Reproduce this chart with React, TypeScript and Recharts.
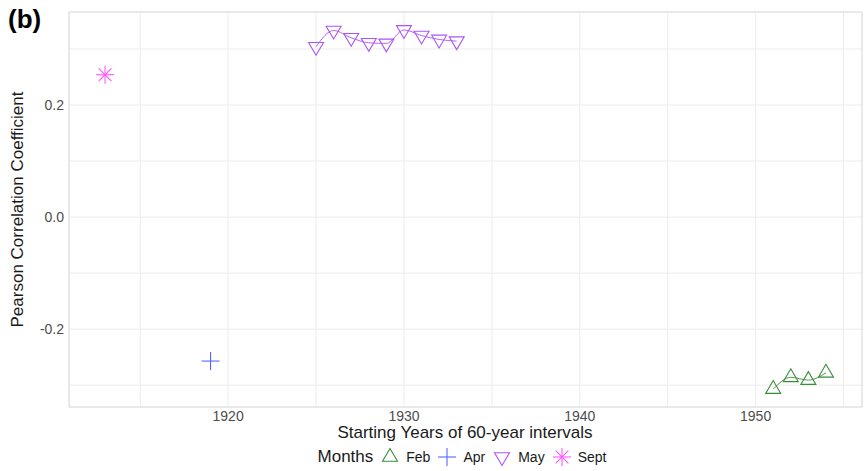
import { ComposedChart, Scatter, Line, XAxis, YAxis, CartesianGrid, ReferenceArea } from "recharts";

// Starting years and Pearson coefficients per month
const febYears = [1951, 1952, 1953, 1954];
const febValues = [-0.307, -0.286, -0.291, -0.278];
const aprYears = [1919];
const aprValues = [-0.257];
const mayYears = [1925, 1926, 1927, 1928, 1929, 1930, 1931, 1932, 1933];
const mayValues = [0.304, 0.333, 0.32, 0.311, 0.31, 0.334, 0.324, 0.317, 0.314];
const septYears = [1913];
const septValues = [0.254];

const xTicks = [1915, 1920, 1925, 1930, 1935, 1940, 1945, 1950, 1955];
const yTicks = [-0.3, -0.2, -0.1, 0, 0.1, 0.2, 0.3];

const FONT = "'Liberation Sans', Arial, sans-serif";
const COLORS = { Feb: "#3c8c3c", Apr: "#5566ff", May: "#aa55f7", Sept: "#ff55ff" };
type Kind = keyof typeof COLORS;

const toPoints = (years: number[], values: number[]) =>
  years.map((year, i) => ({ year, value: values[i] }));

function Marker({ kind, cx, cy }: { kind: Kind; cx: number; cy: number }) {
  const c = COLORS[kind];
  if (kind === "Feb")
    return <polygon points={`${cx},${cy - 8.5} ${cx - 7.5},${cy + 4.3} ${cx + 7.5},${cy + 4.3}`} fill="none" stroke={c} strokeWidth={1.1} />;
  if (kind === "May")
    return <polygon points={`${cx},${cy + 8.5} ${cx - 7.5},${cy - 4.3} ${cx + 7.5},${cy - 4.3}`} fill="none" stroke={c} strokeWidth={1.1} />;
  if (kind === "Apr")
    return (
      <g stroke={c} strokeWidth={1.1}>
        <line x1={cx - 9} y1={cy} x2={cx + 9} y2={cy} />
        <line x1={cx} y1={cy - 9} x2={cx} y2={cy + 9} />
      </g>
    );
  const r = 9;
  const d = r * 0.707;
  return (
    <g stroke={c} strokeWidth={1.1}>
      <line x1={cx - r} y1={cy} x2={cx + r} y2={cy} />
      <line x1={cx} y1={cy - r} x2={cx} y2={cy + r} />
      <line x1={cx - d} y1={cy - d} x2={cx + d} y2={cy + d} />
      <line x1={cx - d} y1={cy + d} x2={cx + d} y2={cy - d} />
    </g>
  );
}

function XTick({ x, y, payload }: any) {
  const v = payload.value as number;
  if (v % 10 !== 0) return null;
  return (
    <text x={x} y={y + 12} textAnchor="middle" fontSize={14} fontFamily={FONT} fill="#4d4d4d">
      {v}
    </text>
  );
}

function LegendContent() {
  const items: Kind[] = ["Feb", "Apr", "May", "Sept"];
  return (
    <div style={{ display: "flex", alignItems: "center", justifyContent: "center", fontFamily: FONT }}>
      <span style={{ fontSize: 17, color: "#1a1a1a", marginRight: 7 }}>Months</span>
      {items.map((k) => (
        <span key={k} style={{ display: "flex", alignItems: "center", marginRight: 7 }}>
          <svg width={20} height={20}>
            <Marker kind={k} cx={10} cy={10} />
          </svg>
          <span style={{ fontSize: 14, color: "#1a1a1a", marginLeft: 6 }}>{k}</span>
        </span>
      ))}
    </div>
  );
}

export default function App() {
  const series: { kind: Kind; data: { year: number; value: number }[] }[] = [
    { kind: "Feb", data: toPoints(febYears, febValues) },
    { kind: "Apr", data: toPoints(aprYears, aprValues) },
    { kind: "May", data: toPoints(mayYears, mayValues) },
    { kind: "Sept", data: toPoints(septYears, septValues) },
  ];

  return (
    <div style={{ position: "absolute", left: 0, top: 0, width: 865, height: 471, background: "#fff" }}>
      <div style={{ position: "absolute", left: 8, top: 4, fontFamily: FONT, fontWeight: "bold", fontSize: 26, color: "#000" }}>
        (b)
      </div>
      <ComposedChart width={865} height={471} margin={{ top: 12, right: 3, left: 0, bottom: 24 }}>
        <CartesianGrid stroke="#ececec" strokeWidth={1} />
        <ReferenceArea x1={1910.95} x2={1956.05} y1={-0.339} y2={0.366} fill="none" stroke="#dcdcdc" strokeWidth={1} />
        <XAxis
          type="number"
          dataKey="year"
          domain={[1910.95, 1956.05]}
          ticks={xTicks}
          allowDataOverflow
          tickLine={false}
          axisLine={false}
          tickSize={0}
          height={40}
          tick={<XTick />}
          label={{
            content: () => (
              <text x={465} y={438} textAnchor="middle" fontSize={17} fontFamily={FONT} fill="#1a1a1a">
                Starting Years of 60-year intervals
              </text>
            ),
          }}
        />
        <YAxis
          type="number"
          dataKey="value"
          domain={[-0.339, 0.366]}
          ticks={yTicks}
          allowDataOverflow
          tickFormatter={(v: number) => (Math.abs(Math.round(v * 10)) % 2 === 0 ? v.toFixed(1) : "")}
          tickLine={false}
          axisLine={false}
          tickSize={0}
          tickMargin={5}
          width={69}
          tick={{ fill: "#4d4d4d", fontSize: 14, fontFamily: FONT }}
          label={{
            content: () => (
              <text x={23} y={209.5} transform="rotate(-90 23 209.5)" textAnchor="middle" fontSize={17} fontFamily={FONT} fill="#1a1a1a">
                Pearson Correlation Coefficient
              </text>
            ),
          }}
        />
        {series
          .filter((s) => s.data.length > 1)
          .map((s) => (
            <Line
              key={`line-${s.kind}`}
              data={s.data}
              dataKey="value"
              type="monotone"
              stroke={COLORS[s.kind]}
              strokeWidth={0.9}
              dot={false}
              activeDot={false}
              legendType="none"
              isAnimationActive={false}
            />
          ))}
        {series.map((s) => (
          <Scatter
            key={s.kind}
            name={s.kind}
            data={s.data}
            dataKey="value"
            isAnimationActive={false}
            shape={(p: any) => <Marker kind={s.kind} cx={p.cx} cy={p.cy} />}
          />
        ))}
      </ComposedChart>
      <div style={{ position: "absolute", left: 69, width: 793, top: 447 }}>
        <LegendContent />
      </div>
    </div>
  );
}
